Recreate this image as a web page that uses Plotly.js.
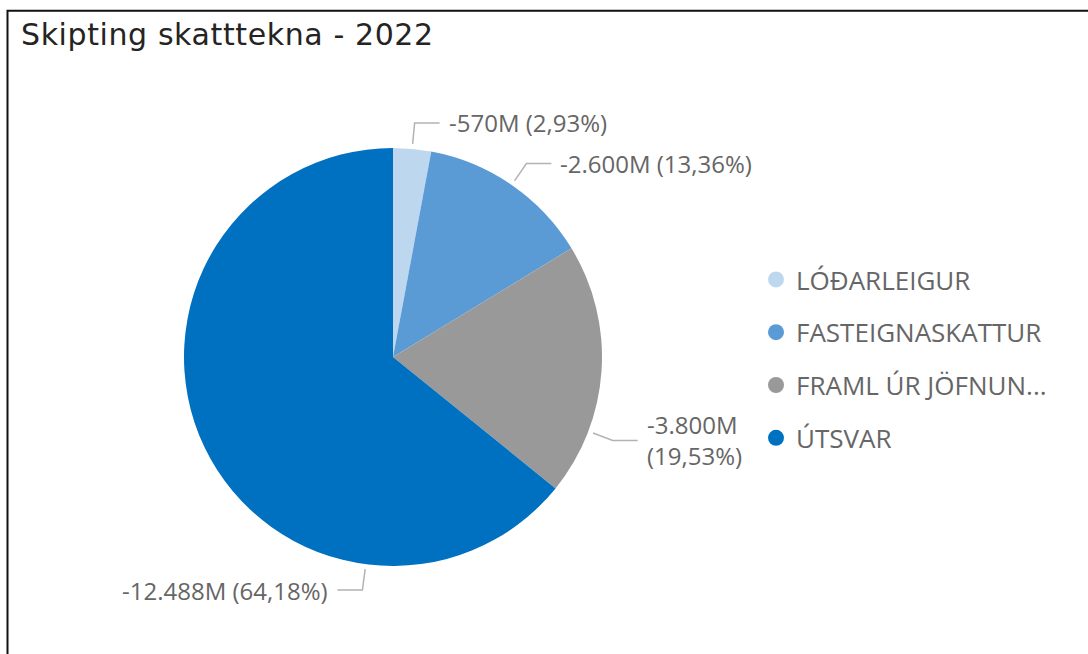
<!DOCTYPE html>
<html><head><meta charset="utf-8">
<script src="https://cdn.plot.ly/plotly-3.0.1.min.js"></script>
<style>html,body{margin:0;padding:0;background:#fff;} #chart{width:1088px;height:654px;} .gtitle{letter-spacing:0.6px;}</style>
</head><body><div id="chart"></div>
<script>
// ---- data ----
const titleText = 'Skipting skatttekna - 2022';
const categories = ['LÓÐARLEIGUR', 'FASTEIGNASKATTUR', 'FRAML ÚR JÖFNUN...', 'ÚTSVAR'];
const values = [-570, -2600, -3800, -12488]; // millions
const unitSuffix = 'M';

// ---- style ----
const colors = ['#BDD7EE', '#5B9BD5', '#999999', '#0070C0'];
const W = 1088, H = 654;
const cx = 393, cy = 357, R = 209;               // pie placement (px)
const labelAngleShift = [0, 0, 17, -57];          // Power BI label nudges (deg)
const labelFont = {family: 'Open Sans, sans-serif', size: 24, color: '#666666'};
const legendFont = {family: 'Open Sans, sans-serif', size: 26, color: '#666666'};

function fmtThousands(v) {
  const s = Math.abs(v).toFixed(0).replace(/\B(?=(\d{3})+(?!\d))/g, '.');
  return (v < 0 ? '-' : '') + s;
}
const total = values.reduce((a, b) => a + Math.abs(b), 0);

const ctx = document.createElement('canvas').getContext('2d');
ctx.font = labelFont.size + 'px "Open Sans"';

const shapes = [];
const annotations = [];
let cum = 0;
const legendLeft = 772;
values.forEach((v, i) => {
  const frac = Math.abs(v) / total;
  const mid = (cum + frac / 2) * 360 + labelAngleShift[i];
  cum += frac;
  const a = mid * Math.PI / 180;
  const sx = cx + (R + 5) * Math.sin(a), sy = cy - (R + 5) * Math.cos(a);
  const ex = cx + (R + 26) * Math.sin(a), ey = cy - (R + 26) * Math.cos(a);
  const dir = Math.sin(a) >= 0 ? 1 : -1;
  const hx = ex + dir * 25;
  const px = x => x / W, py = y => 1 - y / H;
  shapes.push({type: 'path', xref: 'paper', yref: 'paper',
    path: `M ${px(sx)},${py(sy)} L ${px(ex)},${py(ey)} L ${px(hx)},${py(ey)}`,
    line: {color: '#b3b3b3', width: 1.5}});
  const pct = (frac * 100).toFixed(2).replace('.', ',');
  const first = fmtThousands(v) + unitSuffix;
  const second = '(' + pct + '%)';
  let text = first + ' ' + second;
  if (dir > 0 && hx + 9 + ctx.measureText(text).width > legendLeft) text = first + '<br>' + second;
  annotations.push({xref: 'paper', yref: 'paper', x: px(hx), y: py(ey),
    xanchor: dir > 0 ? 'left' : 'right', yanchor: 'middle', xshift: dir * 7,
    text: text, showarrow: false, align: 'left', font: labelFont});
});

const pie = {
  type: 'pie', labels: categories, values: values.map(Math.abs),
  marker: {colors: colors, line: {width: 0}}, sort: false, direction: 'clockwise', rotation: 0,
  textinfo: 'none', hoverinfo: 'none', showlegend: false,
  domain: {x: [(cx - R) / W, (cx + R) / W], y: [(H - cy - R) / H, (H - cy + R) / H]}
};
const legendTraces = categories.map((c, i) => ({
  type: 'scatter', mode: 'markers', x: [null], y: [null], name: c, legendgroup: 'g' + i,
  marker: {symbol: 'circle', size: 17, color: colors[i]}, hoverinfo: 'none'
}));

shapes.push({type: 'path', xref: 'paper', yref: 'paper',
  path: `M ${7.5 / W},-0.1 L ${7.5 / W},${1 - 10.8 / H} L 1.1,${1 - 10.8 / H}`,
  line: {color: '#111111', width: 2}});

const layout = {
  width: W, height: H, margin: {l: 0, r: 0, t: 0, b: 0},
  paper_bgcolor: '#ffffff', plot_bgcolor: '#ffffff',
  title: {text: titleText, x: 21 / W, xanchor: 'left', xref: 'paper', y: 1 - 34 / H, yref: 'container', yanchor: 'middle',
    font: {family: 'DejaVu Sans, sans-serif', size: 30, color: '#252423'}},
  xaxis: {visible: false}, yaxis: {visible: false},
  showlegend: true,
  legend: {x: 756 / W, y: 1 - 256 / H, xanchor: 'left', yanchor: 'top', font: legendFont,
    traceorder: 'grouped', tracegroupgap: 16, itemclick: false, bgcolor: 'rgba(0,0,0,0)'},
  shapes: shapes, annotations: annotations
};
Plotly.newPlot('chart', [pie].concat(legendTraces), layout, {displayModeBar: false, staticPlot: true});
</script></body></html>
